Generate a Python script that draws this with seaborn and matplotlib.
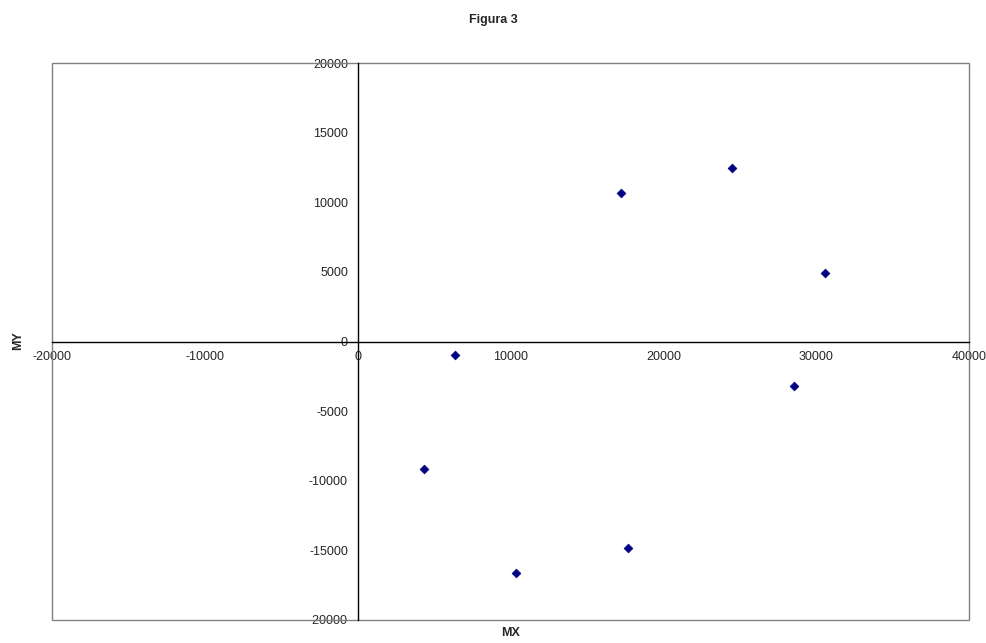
import pandas as pd
import numpy as np
import matplotlib.pyplot as plt
import seaborn as sns
from matplotlib.patches import Rectangle

# Data
mx = [17245, 24517, 30607, 6390, 28564, 4321, 10392, 17663]
my = [10671, 12445, 4955, -962, -3210, -9171, -16639, -14844]
x_ticks = [-20000, -10000, 0, 10000, 20000, 30000, 40000]
y_ticks = [-20000, -15000, -10000, -5000, 0, 5000, 10000, 15000, 20000]

df = pd.DataFrame({'MX': mx, 'MY': my})

sns.set_style('white')
plt.rcParams['font.family'] = ['Liberation Sans', 'DejaVu Sans']
plt.rcParams['axes.unicode_minus'] = False

fig = plt.figure(figsize=(9.87, 6.43), dpi=100)
ax = fig.add_axes([52/987, 1 - 620/643, (969 - 52)/987, (620 - 63)/643])

sns.scatterplot(x='MX', y='MY', data=df, ax=ax, marker='D', s=20,
                color='#000080', edgecolor='#000080', linewidth=0.5, zorder=3)

ax.set_xlim(-20000, 40000)
ax.set_ylim(-20000, 20000)
ax.set_xticks(x_ticks)
ax.set_yticks(y_ticks)

# axes cross at the origin, like the spreadsheet chart
for side in ['left', 'bottom']:
    ax.spines[side].set_position('zero')
    ax.spines[side].set_color('black')
    ax.spines[side].set_linewidth(1.0)
for side in ['top', 'right']:
    ax.spines[side].set_visible(False)

# grey frame round the plot area
ax.add_patch(Rectangle((0, 0), 1, 1, transform=ax.transAxes, fill=False,
                       edgecolor='#808080', linewidth=1.0, clip_on=False, zorder=1))

ax.tick_params(axis='both', direction='out', length=4, width=1, color='black',
               labelsize=9, pad=3)
ax.set_xlabel('')
ax.set_ylabel('')
for lbl in ax.get_xticklabels() + ax.get_yticklabels():
    lbl.set_clip_on(False)

fig.text(0.5, 1 - 20/643, 'Figura 3', ha='center', va='center', fontsize=9, fontweight='bold')
fig.text(511/987, 1 - 633/643, 'MX', ha='center', va='center', fontsize=9, fontweight='bold')
fig.text(18/987, 1 - 341/643, 'MY', ha='center', va='center', fontsize=9,
         fontweight='bold', rotation=90)

fig.savefig('out.png', dpi=100)
